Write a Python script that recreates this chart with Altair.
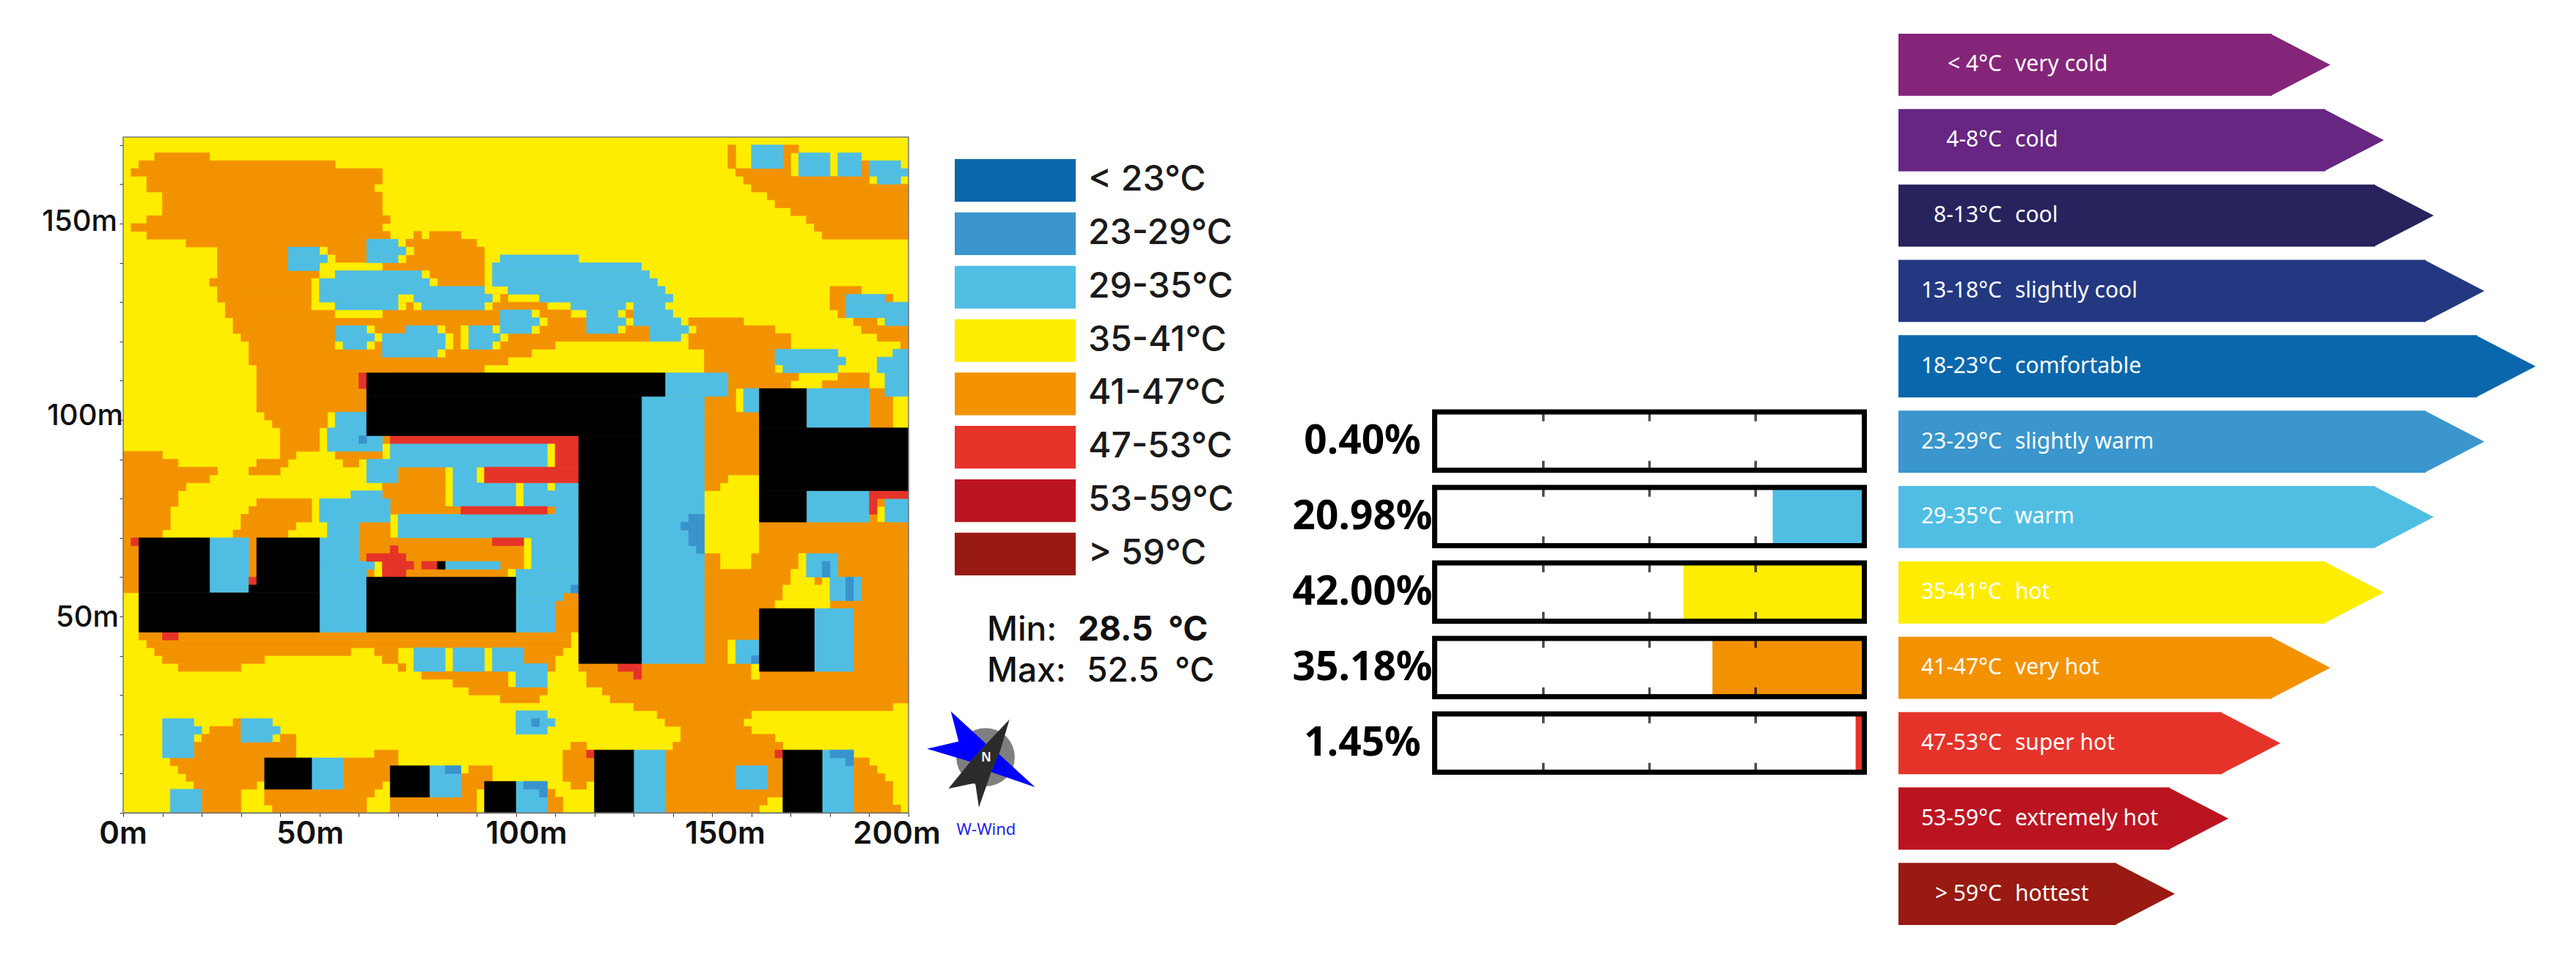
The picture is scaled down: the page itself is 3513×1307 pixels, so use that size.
import altair as alt
import pandas as pd

# ---------- page layout (reference pixels, page margin removed) ----------
M = 8
W, H = 3513 - 2 * M, 1307 - 2 * M

# ---------- map: spans are (row_from, row_to, col_from, col_to), 2 m cells, row 0 at the top ----------
N_ROWS = 86
ORANGE = [
    (2,3,4,11),(3,4,2,27),(4,5,1,33),(5,6,3,33),(6,7,3,32),(7,10,5,33),(10,11,3,34),(11,12,1,33),(12,13,3,34),
    (12,13,37,38),(12,13,39,43),(13,14,8,31),(13,14,36,45),(14,18,12,46),(18,19,11,46),(19,20,12,46),(20,21,12,49),
    (21,22,13,54),(22,23,13,57),(23,25,14,59),(24,25,64,67),(22,23,64,65),(25,26,15,67),(26,27,16,55),(27,28,16,52),
    (28,29,16,49),(29,30,17,46),(30,35,17,31),(35,36,18,26),(36,37,19,26),(37,40,20,25),(40,41,20,22),(41,42,17,21),
    (42,43,16,20),(40,41,27,33),(41,42,28,30),(38,39,33,34),(42,44,35,41),(44,46,33,41),(46,47,34,41),(47,48,34,43),
    (49,51,30,34),(51,52,30,47),(52,56,30,51),(40,41,0,5),(41,42,0,7),(42,43,0,12),(43,44,0,11),(44,45,0,8),(45,47,0,7),
    (47,50,0,6),(50,51,0,5),(51,58,0,2),(46,47,17,24),(47,48,16,24),(48,49,15,24),(49,50,15,22),(50,51,14,21),(51,56,16,17),
    (63,64,2,57),(64,65,3,57),(65,66,4,29),(65,66,32,35),(65,66,51,56),(66,67,5,18),(66,67,33,35),(66,67,51,55),(67,68,7,15),
    (67,68,35,36),(67,68,54,55),(68,69,38,49),(69,70,42,49),(70,71,44,54),(71,72,48,53),(74,75,14,15),(75,76,11,15),
    (76,77,10,15),(76,77,20,22),(77,79,9,22),(78,79,32,35),(79,80,6,18),(79,80,28,35),(80,81,7,18),(80,82,28,34),(80,81,44,47),
    (81,82,8,18),(81,82,43,47),(82,83,9,17),(82,83,28,33),(82,83,43,46),(83,84,10,15),(83,84,18,32),(83,84,43,45),(84,85,10,15),
    (84,85,18,31),(84,86,34,45),(85,86,10,15),(85,86,19,31),
    (1,2,77,78),(1,2,84,86),(2,4,77,78),(2,4,84,85),(3,4,94,95),(4,5,78,85),(4,5,94,95),(5,6,79,95),(6,7,80,100),(7,8,82,100),
    (8,9,83,100),(9,10,85,100),(10,11,87,100),(11,12,88,100),(12,13,89,100),(19,20,90,94),(20,22,90,92),(20,21,97,98),(22,23,91,92),
    (23,24,93,96),(24,25,94,100),(25,26,96,100),(26,27,99,100),(23,24,72,79),(24,25,73,83),(25,27,72,85),(27,30,74,83),(30,31,77,86),
    (31,32,77,85),(31,32,89,95),(30,31,91,95),(32,33,77,78),(32,33,95,97),(33,37,95,98),(33,35,74,78),(35,43,74,81),(43,44,74,77),
    (44,45,74,76),(47,48,54,55),(58,59,56,58),(59,63,55,58),(46,47,96,97),(48,49,95,96),(49,53,81,100),(53,55,74,76),(53,55,80,100),
    (55,72,74,100),(67,68,58,100),(68,70,59,100),(70,71,61,100),(71,72,62,100),(72,73,65,98),(73,74,68,80),(74,75,69,79),(75,76,71,80),
    (76,77,71,83),(77,78,70,84),(77,78,57,59),(78,79,56,59),(79,82,56,60),(82,83,57,59),(78,84,69,84),(84,85,69,82),(85,86,69,81),
    (83,84,54,55),(84,86,54,56),(79,80,93,95),(80,81,93,96),(81,82,93,97),(82,85,93,98),(85,86,93,99),
]
YELLOW = [
    (14,15,25,26),(14,15,36,37),(15,16,26,27),(15,16,35,36),(16,17,25,33),(17,18,25,27),(17,18,38,39),(18,19,24,25),(18,19,39,40),
    (19,20,24,25),(20,21,24,25),(20,21,35,37),(20,21,47,48),(21,22,24,27),(21,22,35,36),(21,22,37,38),(21,22,46,47),(22,23,27,33),
    (22,23,52,53),(23,24,53,54),(24,25,31,32),(24,25,40,41),(24,25,43,44),(24,25,47,48),(24,25,52,53),(25,26,32,33),(25,26,41,42),
    (25,26,43,44),(25,26,48,49),(26,27,27,28),(26,27,31,32),(26,27,41,42),(26,27,43,44),(26,27,47,48),(27,28,40,41),(54,56,32,33),
    (55,56,49,50),(53,56,86,87),(55,56,85,86),(56,57,85,88),(56,57,89,90),(57,59,84,90),(59,60,83,90),(64,67,77,78),(67,69,80,81),
]
BLUE = [
    (14,15,21,25),(15,16,21,26),(16,17,21,25),(13,14,31,35),(14,15,31,36),(15,16,31,35),(17,18,27,38),(18,19,25,39),(19,20,25,46),
    (20,21,25,35),(20,21,37,47),(21,22,27,35),(21,22,38,46),(15,16,48,58),(16,17,47,66),(17,18,47,67),(18,19,47,68),(19,20,49,69),
    (20,21,53,70),(21,22,57,64),(21,22,65,69),(22,23,48,52),(22,23,59,63),(22,23,65,70),(23,24,48,53),(23,24,59,64),(23,24,65,71),
    (24,25,27,31),(24,25,36,40),(24,25,44,47),(24,25,48,52),(24,25,59,63),(24,25,67,72),(25,26,27,32),(25,26,33,41),(25,26,44,48),
    (25,26,67,71),(26,27,28,31),(26,27,33,41),(26,27,44,47),(27,28,33,40),(27,28,83,91),(28,29,83,92),(29,30,84,91),(27,28,98,100),
    (28,30,96,100),(30,33,97,100),(30,33,69,77),(33,67,66,74),(32,35,79,81),(32,37,87,95),(1,4,80,84),(2,5,86,90),(2,5,91,94),(3,4,95,99),
    (4,5,95,100),(5,6,96,99),(20,21,92,97),(21,23,92,100),(23,24,97,100),(35,37,27,31),(37,38,26,31),(38,40,26,33),(39,41,34,54),
    (41,42,31,54),(42,44,31,35),(42,44,42,45),(44,47,42,50),(44,45,51,54),(44,45,55,58),(45,47,51,58),(45,46,29,33),(46,49,25,34),
    (47,48,55,58),(48,51,35,58),(49,51,26,30),(51,54,25,30),(51,54,52,58),(54,55,25,32),(54,55,41,48),(54,55,52,58),(55,63,25,31),
    (55,58,50,58),(58,59,50,56),(59,63,50,55),(51,58,11,16),(45,49,87,95),(46,49,97,100),(53,56,87,91),(56,59,90,94),(60,68,88,93),
    (64,67,78,81),(65,67,37,41),(65,68,42,46),(67,68,37,41),(65,67,47,51),(67,68,47,54),(68,70,50,54),(73,74,50,54),(74,75,50,55),
    (75,76,50,54),(74,75,5,9),(74,75,15,19),(75,76,5,10),(75,76,15,20),(76,77,5,9),(76,77,15,19),(77,79,5,9),(79,83,24,28),(80,84,39,43),
    (83,86,6,10),(82,86,50,54),(78,86,65,69),(78,86,89,93),(80,83,78,82),
]
DEEP_BLUE = [
    (38,39,30,31),(48,49,72,74),(49,50,71,74),(50,52,72,74),(52,53,73,74),(57,58,57,58),(80,81,41,43),(82,83,51,54),(83,84,53,54),
    (74,75,52,53),(78,79,90,93),(79,80,92,93),(54,56,89,90),(56,59,92,93),(66,67,80,81),
]
RED = [
    (30,32,30,31),(38,39,34,58),(42,44,46,58),(39,42,55,58),(47,48,43,54),(51,52,1,2),(51,52,47,51),(52,53,34,35),(53,54,31,36),
    (54,55,33,37),(54,55,38,40),(55,56,33,36),(56,57,16,17),(63,64,5,7),(67,68,63,66),(68,69,65,66),(78,79,59,60),(78,79,83,84),
    (45,46,95,100),(46,48,95,96),
]
BUILDING = [
    (30,33,31,69),(33,38,31,66),(38,67,58,66),(37,45,81,100),(32,37,81,87),(45,49,81,87),(51,58,2,11),(51,58,17,25),(57,58,16,17),
    (58,63,2,25),(56,63,31,50),(54,55,40,41),(60,68,81,88),(79,83,18,24),(80,84,34,39),(82,86,46,50),(78,86,60,65),(78,86,84,89),
]

# ---------- legend, bars, arrows ----------
LEGEND_LABELS = ["< 23°C", "23-29°C", "29-35°C", "35-41°C", "41-47°C", "47-53°C", "53-59°C", "> 59°C"]
LEGEND_COLORS = ["#0b67ac", "#3a96cc", "#50bee3", "#ffed00", "#f39200", "#e6332a", "#bb1421", "#981a12"]

SHARE_LABELS = ["0.40%", "20.98%", "42.00%", "35.18%", "1.45%"]
SHARE_VALUES = [0.40, 20.98, 42.00, 35.18, 1.45]
SHARE_BANDS = ["unseen", "29-35°C", "35-41°C", "41-47°C", "47-53°C"]
SHARE_TICKS = [25, 50, 75]

ARROW_TEMPS = ["< 4°C", "4-8°C", "8-13°C", "13-18°C", "18-23°C", "23-29°C", "29-35°C", "35-41°C", "41-47°C",
               "47-53°C", "53-59°C", "> 59°C"]
ARROW_NAMES = ["very cold", "cold", "cool", "slightly cool", "comfortable", "slightly warm", "warm", "hot", "very hot",
               "super hot", "extremely hot", "hottest"]
ARROW_LENGTHS = [589, 662, 730, 799, 869, 799, 730, 662, 589, 521, 450, 377]
ARROW_COLORS = ["#84257a", "#662681", "#28235c", "#233881", "#0b67ac", "#3a96cc", "#50bee3", "#ffed00", "#f39200",
                "#e6332a", "#bb1421", "#981a12"]
HEAD_LENGTH = 80

FONT = "Noto Sans"
WIDE = "Inter"

# ---------- map ----------
classes = ["orange", "yellow", "blue", "deep", "red", "black"]
class_colors = ["#f39200", "#ffed00", "#50bee3", "#3a94cb", "#e6332a", "#000000"]
records = []
for name, spans in zip(classes, [ORANGE, YELLOW, BLUE, DEEP_BLUE, RED, BUILDING]):
    for r0, r1, c0, c1 in spans:
        records.append({"k": name, "x0": c0 * 2, "x1": c1 * 2, "y0": (N_ROWS - r1) * 2, "y1": (N_ROWS - r0) * 2})
cells = pd.DataFrame(records)

MAP_X = alt.Scale(domain=[0, 200], range=[168 - M, 1239 - M], nice=False)
MAP_Y = alt.Scale(domain=[0, 172], range=[1109 - M, 187 - M], nice=False)
TICKS = list(range(0, 201, 10))
AX = dict(title=None, labels=False, tickColor="#333", domainColor="#666", grid=False)

base = alt.Chart(pd.DataFrame({"x0": [0], "x1": [200], "y0": [0], "y1": [172]}))
map_bg = base.mark_rect(color="#ffed00").encode(
    x=alt.X("x0:Q", scale=MAP_X, axis=alt.Axis(values=TICKS, offset=-(H - (1109 - M)), tickSize=5, **AX)),
    x2="x1:Q",
    y=alt.Y("y0:Q", scale=MAP_Y, axis=alt.Axis(values=[v for v in TICKS if v <= 170], offset=-(168 - M), tickSize=5, **AX)),
    y2="y1:Q",
)
map_color = alt.Scale(domain=classes, range=class_colors)
map_cells = alt.Chart(cells).mark_rect(strokeWidth=0.6).encode(
    x=alt.X("x0:Q", scale=MAP_X, axis=None), x2="x1:Q",
    y=alt.Y("y0:Q", scale=MAP_Y, axis=None), y2="y1:Q",
    fill=alt.Fill("k:N", scale=map_color, legend=None),
    stroke=alt.Stroke("k:N", scale=map_color, legend=None),
)
map_frame = base.mark_rect(fill="transparent", stroke="#777", strokeWidth=1.5).encode(
    x=alt.X("x0:Q", scale=MAP_X, axis=None), x2="x1:Q",
    y=alt.Y("y0:Q", scale=MAP_Y, axis=None), y2="y1:Q",
)


def label(text, x, y, size, weight=400, color="#111", align="left", font=FONT):
    return alt.Chart(pd.DataFrame({"t": [text]})).mark_text(
        font=font, fontSize=size, fontWeight=weight, color=color, align=align, baseline="middle"
    ).encode(text="t:N", x=alt.value(x - M), y=alt.value(y - M))


# ---------- temperature legend ----------
leg = pd.DataFrame({"b": LEGEND_LABELS, "x0": [0] * 8, "x1": [1] * 8})
LEG_Y = alt.Scale(type="band", domain=LEGEND_LABELS, range=[217 - M, 785 - M], paddingInner=0.2, paddingOuter=0)
leg_bars = alt.Chart(leg).mark_rect().encode(
    x=alt.X("x0:Q", scale=alt.Scale(domain=[0, 1], range=[1302 - M, 1467 - M]), axis=None), x2="x1:Q",
    y=alt.Y("b:N", scale=LEG_Y, axis=None, sort=None),
    fill=alt.Fill("b:N", scale=alt.Scale(domain=LEGEND_LABELS, range=LEGEND_COLORS), legend=None),
)
leg_text = alt.Chart(leg).mark_text(font=WIDE, fontSize=48, fontWeight=500, color="#1a1a1a", align="left", baseline="middle").encode(
    text="b:N", x=alt.value(1484 - M), y=alt.Y("b:N", scale=LEG_Y, axis=None, sort=None)
)

# ---------- share bars ----------
share = pd.DataFrame({"row": SHARE_LABELS, "v": SHARE_VALUES, "band": SHARE_BANDS, "full": [100] * 5})
SH_X = alt.Scale(domain=[0, 100], range=[1960 - M, 2539 - M], nice=False)
SH_Y = alt.Scale(type="band", domain=SHARE_LABELS, range=[562 - M, 1053.5 - M], paddingInner=0.229, paddingOuter=0)
sh_y = alt.Y("row:N", scale=SH_Y, axis=None, sort=None)
sh_fill = alt.Chart(share).transform_calculate(start="100 - datum.v").mark_rect().encode(
    x=alt.X("start:Q", scale=SH_X, axis=None), x2="full:Q", y=sh_y,
    fill=alt.Fill("band:N", scale=alt.Scale(domain=["unseen"] + LEGEND_LABELS, range=["#ffffff"] + LEGEND_COLORS), legend=None),
)
sh_frame = alt.Chart(share).transform_calculate(a="-0.6", b="100.6").mark_rect(fill="transparent", stroke="#000", strokeWidth=7).encode(
    x=alt.X("a:Q", scale=alt.Scale(domain=[0, 100], range=[1960 - M, 2539 - M], nice=False), axis=None), x2="b:Q", y=sh_y
)
tick_rows = pd.DataFrame([{"row": r, "t": t} for r in SHARE_LABELS for t in SHARE_TICKS])
sh_ticks = [
    alt.Chart(tick_rows).mark_tick(color="#000", size=10, thickness=3.5, yOffset=off).encode(
        x=alt.X("t:Q", scale=SH_X, axis=None), y=sh_y
    )
    for off in (-32, 32)
]
sh_text = alt.Chart(share).mark_text(font=FONT, fontSize=55, fontWeight=700, color="#000", align="center", baseline="middle").encode(
    text="row:N", x=alt.value(1858 - M), y=sh_y
)

# ---------- class arrows ----------
arrows = pd.DataFrame({"t": ARROW_TEMPS, "n": ARROW_NAMES, "len": ARROW_LENGTHS, "zero": [0] * 12})
arrows["neck"] = arrows["len"] - HEAD_LENGTH
AR_X = alt.Scale(domain=[0, 869], range=[2589 - M, 3458 - M], nice=False)
AR_Y = alt.Scale(type="band", domain=ARROW_TEMPS, range=[46 - M, 1262 - M], paddingInner=0.175, paddingOuter=0)
ar_y = alt.Y("t:N", scale=AR_Y, axis=None, sort=None)
ar_fill = alt.Fill("t:N", scale=alt.Scale(domain=ARROW_TEMPS, range=ARROW_COLORS), legend=None)
ar_body = alt.Chart(arrows).mark_rect().encode(
    x=alt.X("zero:Q", scale=AR_X, axis=None), x2="neck:Q", y=ar_y, fill=ar_fill
)
ar_head = alt.Chart(arrows).mark_point(
    shape="M-0.02,-1 L1.905,0 L-0.02,1 Z", filled=True, size=84 * 84, opacity=1, strokeWidth=0
).encode(x=alt.X("neck:Q", scale=AR_X, axis=None), y=ar_y, fill=ar_fill)
ar_temp = alt.Chart(arrows).mark_text(font=FONT, fontSize=30, color="#fff", align="right", baseline="middle").encode(
    text="t:N", x=alt.value(2730 - M), y=ar_y
)
ar_name = alt.Chart(arrows).mark_text(font=FONT, fontSize=30, color="#fff", align="left", baseline="middle").encode(
    text="n:N", x=alt.value(2748 - M), y=ar_y
)


# ---------- compass ----------
def star(path, color):
    return alt.Chart(pd.DataFrame({"a": [0]})).mark_point(
        shape=path, filled=True, size=4, opacity=1, strokeWidth=0, color=color
    ).encode(x=alt.value(1344 - M), y=alt.value(1027.3 - M))


disc = alt.Chart(pd.DataFrame({"a": [0]})).mark_circle(color="#7f7f7f", size=6360, opacity=1).encode(
    x=alt.value(1344 - M), y=alt.value(1033 - M)
)
blue_star = star("M-47.3,-56.7 L1,-12.3 L-20.7,12 L-79.7,-5.7 L-36.7,-15.7 Z M17.7,1 L67.7,46.7 L7.7,26 Z", "#0000ff")
dark_star = star("M32.7,-45.7 L19.3,-0.7 L7.7,26 L-9,74.3 L-14,41 L-50.7,48.7 L-20.7,12 L1,-12.3 Z", "#2b2b2b")

layers = [
    map_bg, map_cells, map_frame,
    label("0m", 168, 1138, 42, 600, font=WIDE, align="center"),
    label("50m", 423, 1138, 42, 600, font=WIDE, align="center"),
    label("100m", 718, 1138, 42, 600, font=WIDE, align="center"),
    label("150m", 989, 1138, 42, 600, font=WIDE, align="center"),
    label("200m", 1223, 1138, 42, 600, font=WIDE, align="center"),
    label("150m", 160, 303, 40, 500, font=WIDE, align="right"),
    label("100m", 168, 568, 40, 500, font=WIDE, align="right"),
    label("50m", 162, 843, 40, 500, font=WIDE, align="right"),
    leg_bars, leg_text,
    label("Min:", 1346, 860, 46, 500, font=WIDE), label("28.5", 1470, 860, 46, 700, font=WIDE), label("°C", 1593, 860, 46, 700, font=WIDE),
    label("Max:", 1346, 916, 46, 500, font=WIDE), label("52.5", 1482, 916, 46, 500, font=WIDE), label("°C", 1602, 916, 46, 500, font=WIDE),
    sh_fill, sh_frame, *sh_ticks, sh_text,
    ar_body, ar_head, ar_temp, ar_name,
    disc, blue_star, dark_star,
    label("N", 1345, 1034, 17, 700, color="#eeeeee", align="center"),
    label("W-Wind", 1345, 1132, 22, 400, color="#1f1fe6", align="center"),
]

chart = (
    alt.layer(*layers)
    .resolve_scale(x="independent", y="independent", fill="independent", stroke="independent")
    .properties(width=W, height=H, padding=0, autosize=alt.AutoSizeParams(type="none"), background="white")
    .configure_view(strokeWidth=0)
)
chart.save("out.html", embed_options={"renderer": "svg", "actions": False})
